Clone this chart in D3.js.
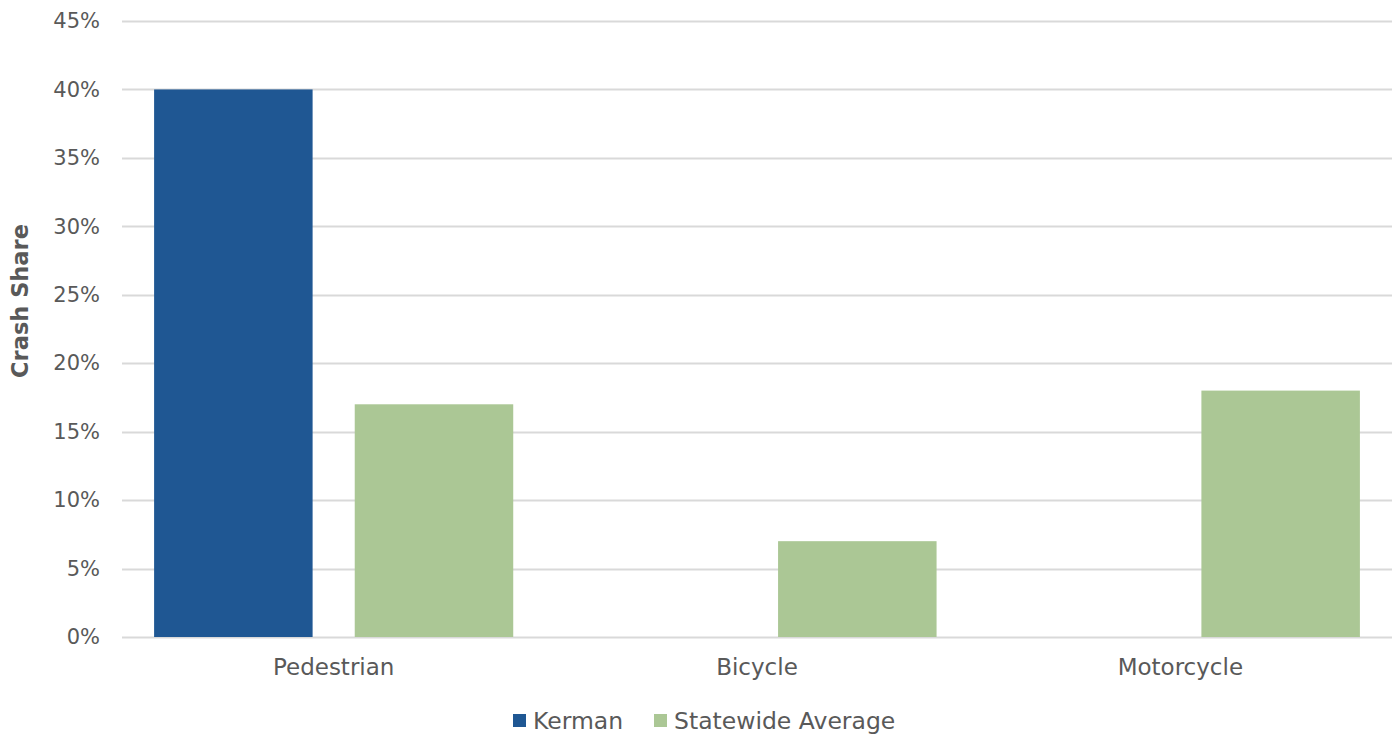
<!DOCTYPE html>
<html>
<head>
<meta charset="utf-8">
<script src="https://cdn.jsdelivr.net/npm/d3@7"></script>
<style>
  html, body { margin: 0; padding: 0; background: #fff; }
  svg text { font-family: "DejaVu Sans", "Open Sans", sans-serif; fill: #595959; }
</style>
</head>
<body>
<svg id="chart" width="1400" height="736"></svg>
<script>
// Crash share by mode: Kerman vs. statewide average
const categories = ["Pedestrian", "Bicycle", "Motorcycle"];
const seriesNames = ["Kerman", "Statewide Average"];
const kerman = [0.40, 0, 0];
const statewide = [0.17, 0.07, 0.18];
const yTicks = [0, 0.05, 0.10, 0.15, 0.20, 0.25, 0.30, 0.35, 0.40, 0.45];
const colors = ["#1F5793", "#ABC795"];

const svg = d3.select("#chart");
const margin = { left: 122, right: 8, top: 21, bottom: 99 };
const W = 1400, H = 736;

const x = d3.scaleBand().domain(categories)
  .range([margin.left, W - margin.right]).paddingInner(0).paddingOuter(0);
const x1 = d3.scaleBand().domain(seriesNames)
  .range([0, x.bandwidth()]).paddingInner(0.21).paddingOuter(0.16);
const y = d3.scaleLinear().domain([0, 0.45]).range([H - margin.bottom, margin.top]);

// gridlines
svg.append("g")
  .selectAll("line").data(yTicks).join("line")
  .attr("x1", margin.left).attr("x2", W - margin.right)
  .attr("y1", d => Math.round(y(d)) + 0.5).attr("y2", d => Math.round(y(d)) + 0.5)
  .attr("stroke", "#d9d9d9").attr("stroke-width", 2);

// y-axis labels
const yAxis = d3.axisLeft(y).tickValues(yTicks).tickFormat(d3.format(".0%")).tickSize(0).tickPadding(0);
const gy = svg.append("g").attr("transform", `translate(${margin.left - 22},0)`).call(yAxis);
gy.select(".domain").remove();
gy.selectAll("text").style("font-size", "21px").style("font-family", "DejaVu Sans").attr("fill", "#595959");

// bars
const rows = categories.map((c, i) => ({ cat: c, vals: [kerman[i], statewide[i]] }));
svg.append("g").selectAll("g").data(rows).join("g")
  .attr("transform", d => `translate(${x(d.cat)},0)`)
  .selectAll("rect").data(d => d.vals.map((v, j) => ({ v, s: seriesNames[j], j })))
  .join("rect")
  .attr("x", d => x1(d.s))
  .attr("width", x1.bandwidth())
  .attr("y", d => y(d.v))
  .attr("height", d => y(0) - y(d.v))
  .attr("fill", d => colors[d.j]);

// x-axis labels
const xAxis = d3.axisBottom(x).tickSize(0).tickPadding(22);
const gx = svg.append("g").attr("transform", `translate(0,${y(0)})`).call(xAxis);
gx.select(".domain").remove();
gx.selectAll("text").style("font-size", "23px").style("font-family", "DejaVu Sans").attr("fill", "#595959");

// y-axis title
svg.append("text")
  .attr("transform", `translate(28,${(y(0) + y(0.45)) / 2 - 28}) rotate(-90)`)
  .attr("text-anchor", "middle")
  .style("font-size", "22.5px").style("font-weight", "bold")
  .text("Crash Share");

// legend
const legend = svg.append("g").attr("transform", "translate(0,721)");
const legendItems = [
  { name: seriesNames[0], color: colors[0], x: 513 },
  { name: seriesNames[1], color: colors[1], x: 654 }
];
legendItems.forEach(it => {
  legend.append("rect").attr("x", it.x).attr("y", -7).attr("width", 13).attr("height", 13).attr("fill", it.color);
  legend.append("text").attr("x", it.x + 20).attr("y", 0).attr("dy", "0.35em")
    .style("font-size", "23.5px").text(it.name);
});
</script>
</body>
</html>
